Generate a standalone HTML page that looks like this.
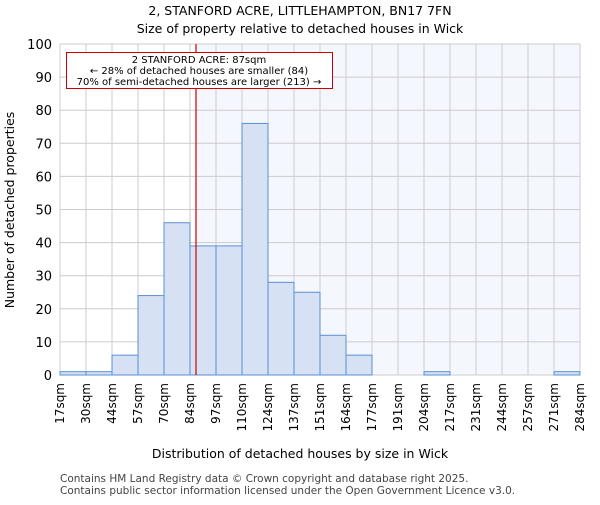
<!DOCTYPE html>
<html><head><style>body{margin:0;background:#fff}svg text{font-family:"DejaVu Sans","Liberation Sans",sans-serif}</style></head>
<body>
<svg id="c" width="600" height="500">
<text x="300" y="15" font-size="12.5" text-anchor="middle">2, STANFORD ACRE, LITTLEHAMPTON, BN17 7FN</text>
<text x="300" y="33" font-size="12.5" text-anchor="middle">Size of property relative to detached houses in Wick</text>
<text x="300" y="458" font-size="12.5" text-anchor="middle">Distribution of detached houses by size in Wick</text>
<text x="14" y="210" font-size="12.5" text-anchor="middle" transform="rotate(-90 14 210)">Number of detached properties</text>
<text x="60" y="482" font-size="10.5" fill="#444">Contains HM Land Registry data © Crown copyright and database right 2025.</text>
<text x="60" y="494" font-size="10.5" fill="#444">Contains public sector information licensed under the Open Government Licence v3.0.</text>
<g id="plot"></g>
</svg>
<script>
const binEdges=[17,30,44,57,70,84,97,110,124,137,151,164,177,191,204,217,231,244,257,271,284];
const counts=[1,1,6,24,46,39,39,76,28,25,12,6,0,0,1,0,0,0,0,1];
const yTicks=[0,10,20,30,40,50,60,70,80,90,100];
const propertySize=87;
const annotationLines=["2 STANFORD ACRE: 87sqm","← 28% of detached houses are smaller (84)","70% of semi-detached houses are larger (213) →"];
const NS="http://www.w3.org/2000/svg";
const L=60,R=580,T=44,B=375,n=counts.length,bw=(R-L)/n;
const xi=i=>L+i*bw;
const xv=v=>{for(let i=0;i<n;i++){if(v<=binEdges[i+1]){return xi(i)+bw*(v-binEdges[i])/(binEdges[i+1]-binEdges[i]);}}return R;};
const y=v=>B-(v/100)*(B-T);
const g=document.getElementById('plot');
function mk(t,a){const e=document.createElementNS(NS,t);for(const k in a)e.setAttribute(k,a[k]);g.appendChild(e);return e;}
const px=xv(propertySize);
let e=mk('rect',{x:px,y:T,width:R-px,height:B-T,fill:'#f4f7fd'});


yTicks.forEach(t=>{let l=mk('line',{x1:L,x2:R,y1:y(t),y2:y(t),stroke:'#ccc'});


let tx=mk('text',{x:L-8,y:y(t)+5,'font-size':13,'text-anchor':'end'});tx.textContent=t;

});
binEdges.forEach((b,i)=>{let l=mk('line',{x1:xi(i),x2:xi(i),y1:T,y2:B,stroke:'#ccc'});


let tx=mk('text',{x:xi(i)+4,y:B+8,'font-size':12,'text-anchor':'end',transform:`rotate(-90 ${xi(i)+4} ${B+8})`});tx.textContent=b+'sqm';

});
counts.forEach((c,i)=>{if(c<=0)return;let r=mk('rect',{x:xi(i),y:y(c),width:bw,height:B-y(c),fill:'#d6e1f3',stroke:'#5b8fd4','stroke-width':1});

});
e=mk('line',{x1:px,x2:px,y1:T,y2:B,stroke:'#cc0000','stroke-width':1.2});


e=mk('rect',{x:66.5,y:52.5,width:266,height:36,fill:'#fff',stroke:'#cc0000'});


annotationLines.forEach((s,i)=>{let tx=mk('text',{x:199,y:63+i*11,'font-size':10,'text-anchor':'middle'});tx.textContent=s;

});
</script>
</body></html>
